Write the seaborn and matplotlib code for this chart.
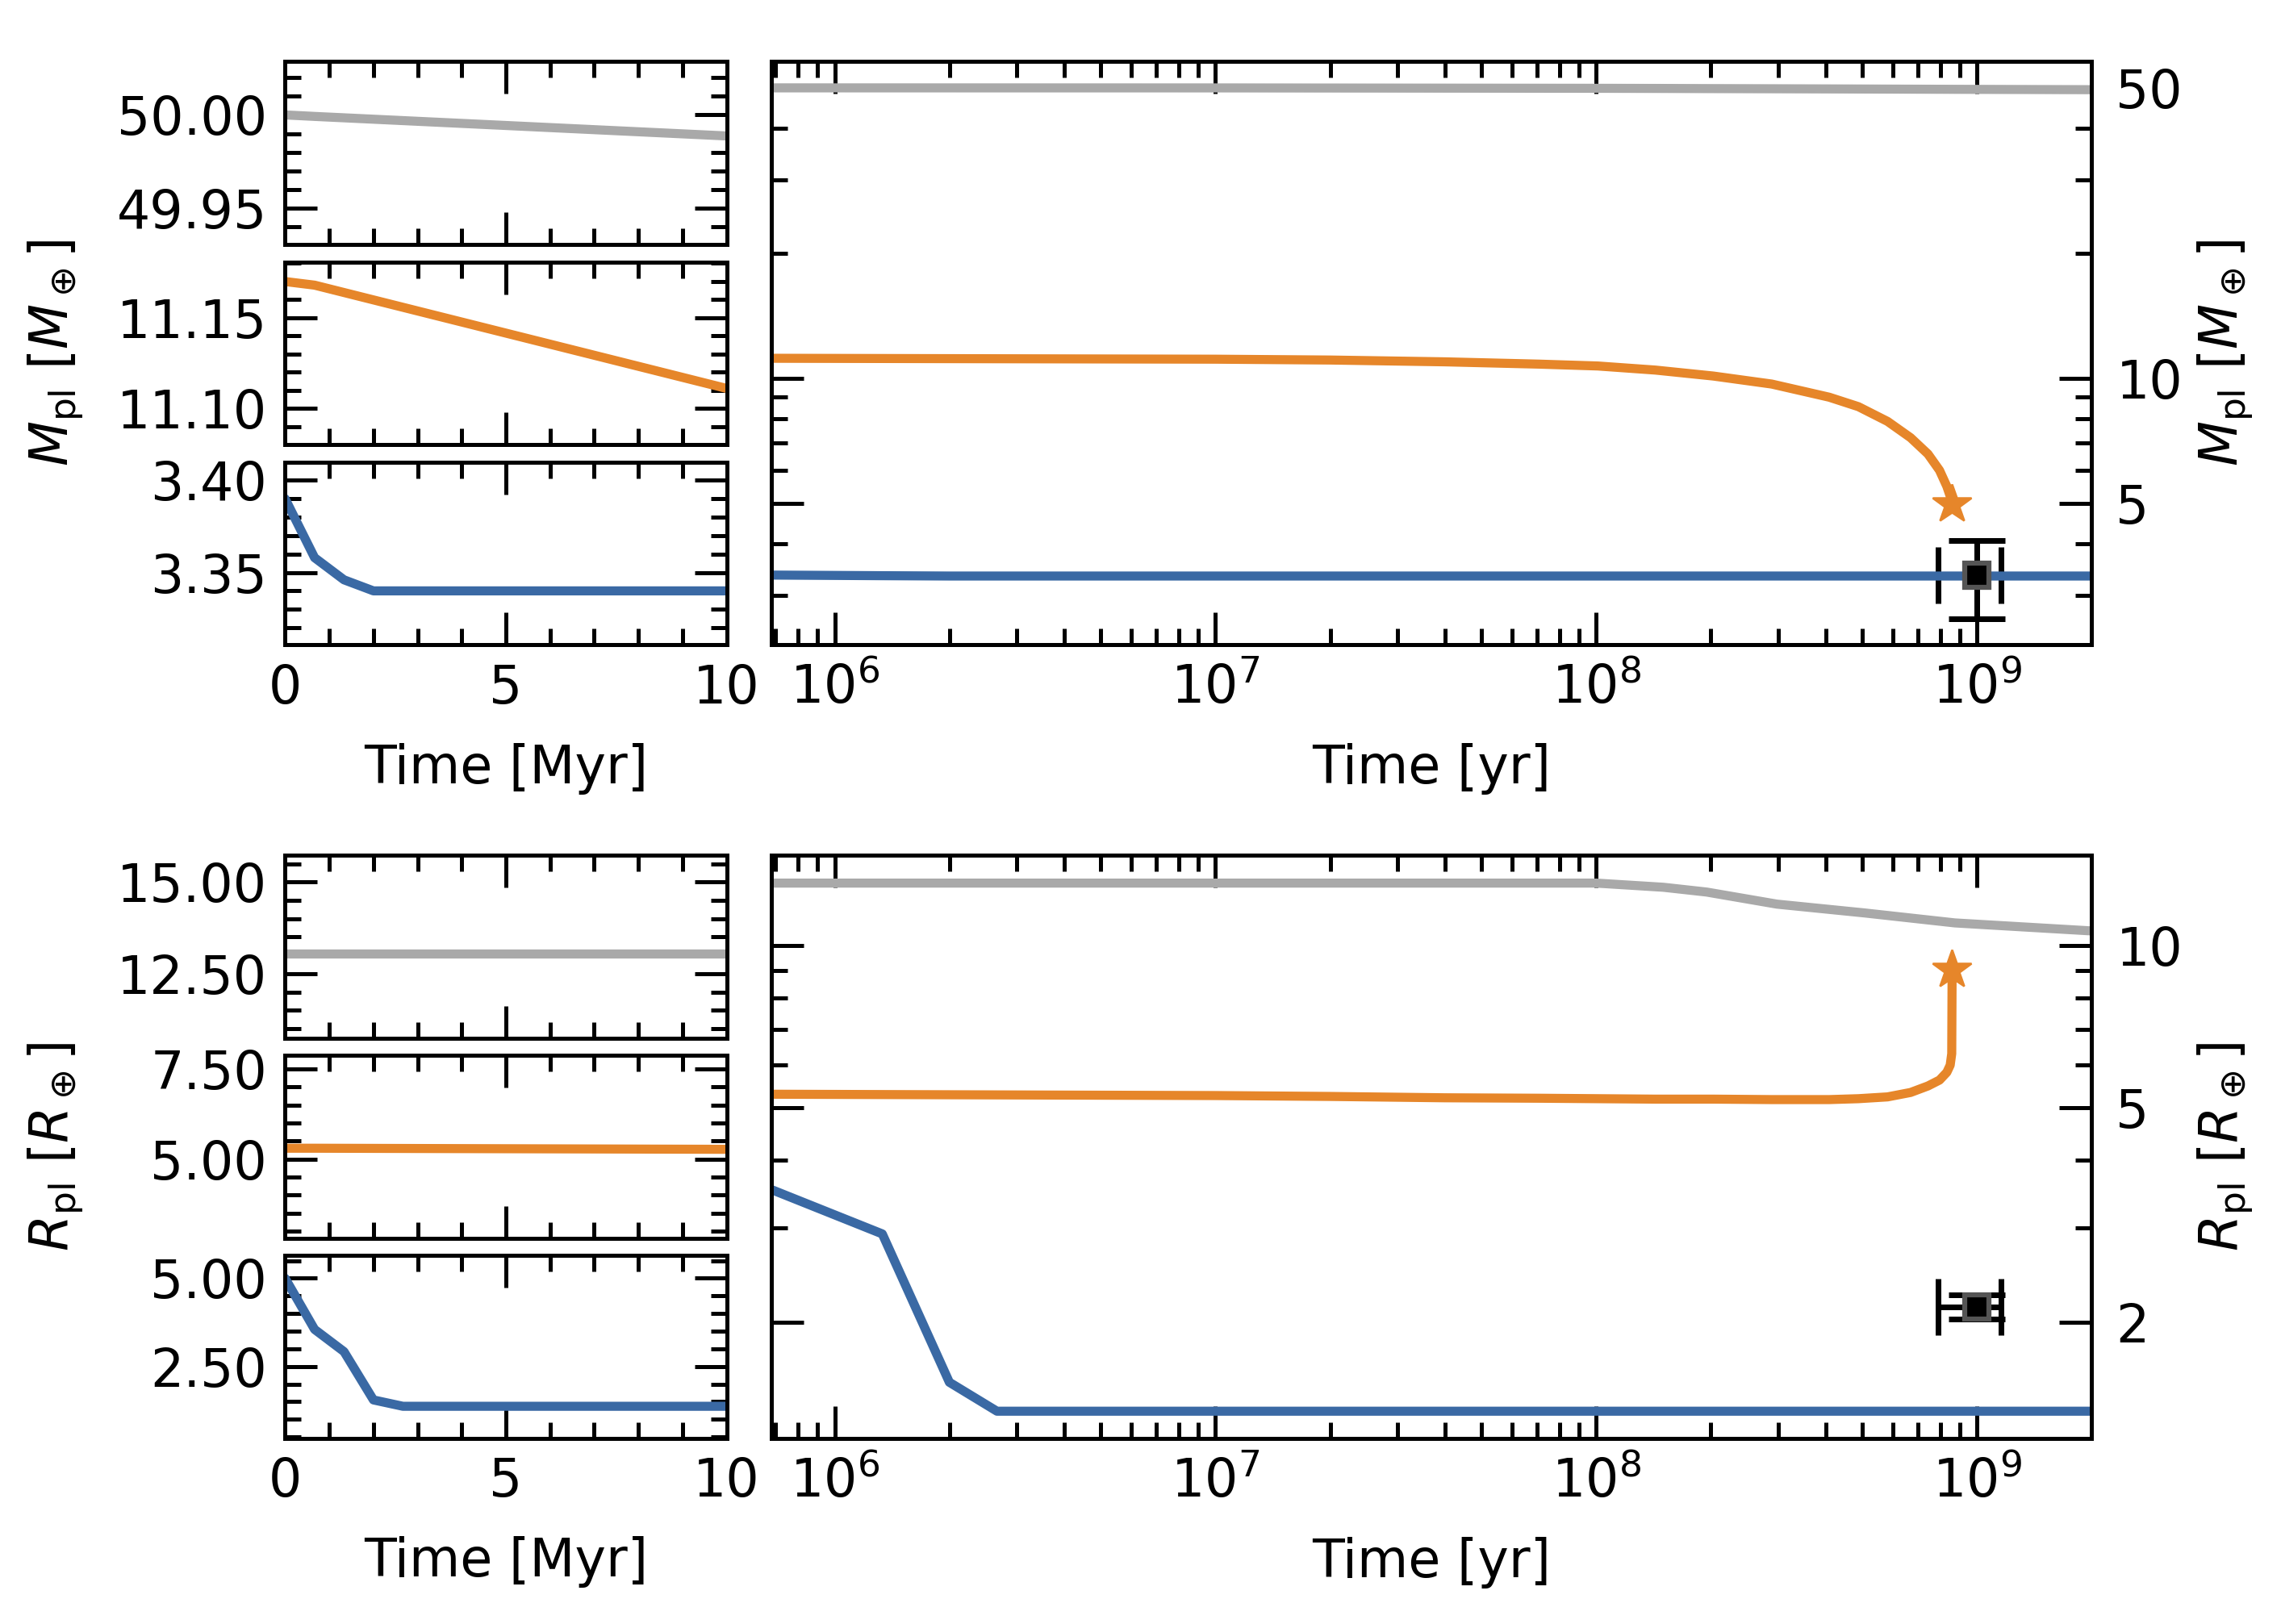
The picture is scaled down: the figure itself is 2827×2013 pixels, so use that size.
"""Mass and radius evolution of three planets: zoom on the first 10 Myr and the full track"""
import numpy as np
import matplotlib
matplotlib.use("Agg")
import matplotlib.pyplot as plt
import matplotlib.ticker as mticker
import seaborn as sns

# planet tracks: time [yr], mass [M_earth], radius [R_earth]
t_gray = [0, 6.67e5, 1.0e7, 1.0e8, 1.5e8, 1.95e8, 2.98e8, 5.06e8, 8.75e8, 2.0e9]
m_gray = [50.000, 49.9992, 49.9887, 49.88, 49.84, 49.80, 49.75, 49.68, 49.60, 49.50]
r_gray = [13.05, 13.05, 13.05, 13.05, 12.82, 12.56, 11.93, 11.49, 11.01, 10.64]

t_orange = [0, 6.67e5, 1.0e7, 2.0e7, 4.0e7, 7.1e7, 1.01e8, 1.43e8, 2.03e8, 2.89e8,
            4.09e8, 4.88e8, 5.82e8, 6.69e8, 7.43e8, 7.97e8, 8.33e8, 8.5e8, 8.58e8, 8.6e8]
m_orange = [11.170, 11.168, 11.111, 11.06, 10.95, 10.81, 10.70, 10.46, 10.12, 9.68,
            9.00, 8.54, 7.87, 7.19, 6.57, 6.00, 5.49, 5.20, 5.05, 4.98]
r_orange = [5.30, 5.30, 5.27, 5.25, 5.22, 5.21, 5.20, 5.19, 5.19, 5.18,
            5.18, 5.20, 5.24, 5.34, 5.49, 5.63, 5.82, 6.00, 6.30, 9.02]

t_blue = [0, 6.67e5, 1.333e6, 2.0e6, 2.667e6, 1.0e7, 1.0e8, 1.0e9, 2.0e9]
m_blue = [3.390, 3.358, 3.346, 3.340, 3.340, 3.340, 3.340, 3.340, 3.340]
r_blue = [5.00, 3.55, 2.92, 1.55, 1.37, 1.37, 1.37, 1.37, 1.37]

# observed planet
obs_age = 1.0e9
obs_age_err = [[0.21e9], [0.155e9]]
obs_mass = 3.35
obs_mass_err = 0.72
obs_radius = 2.14
obs_radius_err = 0.11

GRAY = "#a9a9a9"
ORANGE = "#e6862a"
BLUE = "#3a69a4"
LW = 4.5

sns.set_theme(style="ticks")
plt.rcParams.update({
    "font.family": ["DejaVu Sans"],
    "mathtext.fontset": "dejavusans",
    "font.size": 26,
    "axes.labelsize": 26,
    "xtick.labelsize": 26,
    "ytick.labelsize": 26,
    "text.color": "black",
    "axes.labelcolor": "black",
    "axes.edgecolor": "black",
    "xtick.color": "black",
    "ytick.color": "black",
    "axes.linewidth": 2,
    "xtick.direction": "in",
    "ytick.direction": "in",
    "xtick.top": True,
    "ytick.right": True,
    "xtick.major.size": 16,
    "ytick.major.size": 16,
    "xtick.minor.size": 8,
    "ytick.minor.size": 8,
    "xtick.major.width": 2,
    "ytick.major.width": 2,
    "xtick.minor.width": 2,
    "ytick.minor.width": 2,
    "xtick.major.pad": 9,
    "ytick.major.pad": 9,
})

fig = plt.figure(figsize=(2827 / 180, 2013 / 180), dpi=180)

LEFT_X, LEFT_W = 0.125, 0.1936
RIGHT_X, RIGHT_W = 0.338, 0.579
PANEL_H, GAP = 0.1125, 0.0108


def small_axes(top):
    axes = []
    for i in range(3):
        y0 = top - PANEL_H - i * (PANEL_H + GAP)
        axes.append(fig.add_axes([LEFT_X, y0, LEFT_W, PANEL_H]))
    return axes


def draw_group(top, column, obs_y, obs_yerr, lims, step, big_lims, big_ticks, ylabel):
    tracks = [(t_gray, column[0], GRAY), (t_orange, column[1], ORANGE), (t_blue, column[2], BLUE)]

    # first 10 Myr, one planet per panel
    axes = small_axes(top)
    for ax, (t, v, c), lim in zip(axes, tracks, lims):
        sns.lineplot(x=np.array(t) / 1e6, y=v, ax=ax, color=c, lw=LW,
                     estimator=None, sort=False, legend=False)
        ax.set_xlim(0, 10)
        ax.set_ylim(*lim)
        ax.xaxis.set_major_locator(mticker.MultipleLocator(5))
        ax.xaxis.set_minor_locator(mticker.MultipleLocator(1))
        ax.yaxis.set_major_locator(mticker.MultipleLocator(step))
        ax.yaxis.set_minor_locator(mticker.MultipleLocator(step / 5))
        ax.yaxis.set_major_formatter(mticker.FormatStrFormatter("%.2f"))
        ax.tick_params(which="both", top=True, right=True, labelbottom=False)
        ax.set_xlabel("")
        ax.set_ylabel("")
    axes[-1].tick_params(labelbottom=True)
    axes[-1].set_xlabel("Time [Myr]", labelpad=14)
    axes[1].set_ylabel(ylabel, va="center", ha="center")
    axes[1].yaxis.set_label_coords(-0.52, 0.5)

    # full evolution on log axes
    y0 = top - 3 * PANEL_H - 2 * GAP
    ax = fig.add_axes([RIGHT_X, y0, RIGHT_W, top - y0])
    ax.set_xscale("log")
    ax.set_yscale("log")
    ax.errorbar(obs_age, obs_y, xerr=obs_age_err, yerr=obs_yerr, fmt="none", ecolor="black",
                elinewidth=2.8, capsize=14, capthick=2.8, zorder=1)
    for t, v, c in tracks:
        t = np.array(t)
        v = np.array(v)
        keep = t > 0
        sns.lineplot(x=t[keep], y=v[keep], ax=ax, color=c, lw=LW, estimator=None,
                     sort=False, legend=False, zorder=2)
    ax.plot(t_orange[-1], column[1][-1], marker="*", ms=20, color=ORANGE, zorder=4)
    ax.plot(obs_age, obs_y, "s", ms=12, mfc="black", mec="#555555", mew=2.5, zorder=5)

    ax.set_xlim(6.8e5, 2e9)
    ax.set_ylim(*big_lims)
    ax.xaxis.set_major_locator(mticker.LogLocator(base=10, numticks=20))
    ax.xaxis.set_minor_locator(mticker.LogLocator(base=10, subs=np.arange(2, 10), numticks=50))
    ax.xaxis.set_minor_formatter(mticker.NullFormatter())
    ax.yaxis.set_major_locator(mticker.FixedLocator(big_ticks))
    ax.yaxis.set_major_formatter(mticker.FuncFormatter(lambda v, p: f"{v:g}"))
    ax.yaxis.set_minor_locator(mticker.LogLocator(base=10, subs=np.arange(2, 10), numticks=50))
    ax.yaxis.set_minor_formatter(mticker.NullFormatter())
    ax.tick_params(which="both", top=True, bottom=True, left=True, right=True,
                   labelleft=False, labelright=True)
    ax.tick_params(axis="y", pad=12)
    ax.set_xlabel("Time [yr]", labelpad=14)
    ax.yaxis.set_label_position("right")
    ax.set_ylabel(ylabel, va="center", ha="center", rotation=90)
    ax.yaxis.set_label_coords(1.101, 0.5)


draw_group(0.962, [m_gray, m_orange, m_blue], obs_mass, obs_mass_err,
           [(49.9304, 50.0286), (11.080, 11.1808), (3.3107, 3.4098)], 0.05,
           (2.28, 57.8), [5, 10, 50], r"$M_{\rm pl}$ [$M_\oplus$]")
draw_group(0.4734, [r_gray, r_orange, r_blue], obs_radius, obs_radius_err,
           [(10.75, 15.73), (2.80, 7.88), (0.46, 5.64)], 2.5,
           (1.22, 14.7), [2, 5, 10], r"$R_{\rm pl}$ [$R_\oplus$]")

fig.savefig("out.png", dpi=180)
